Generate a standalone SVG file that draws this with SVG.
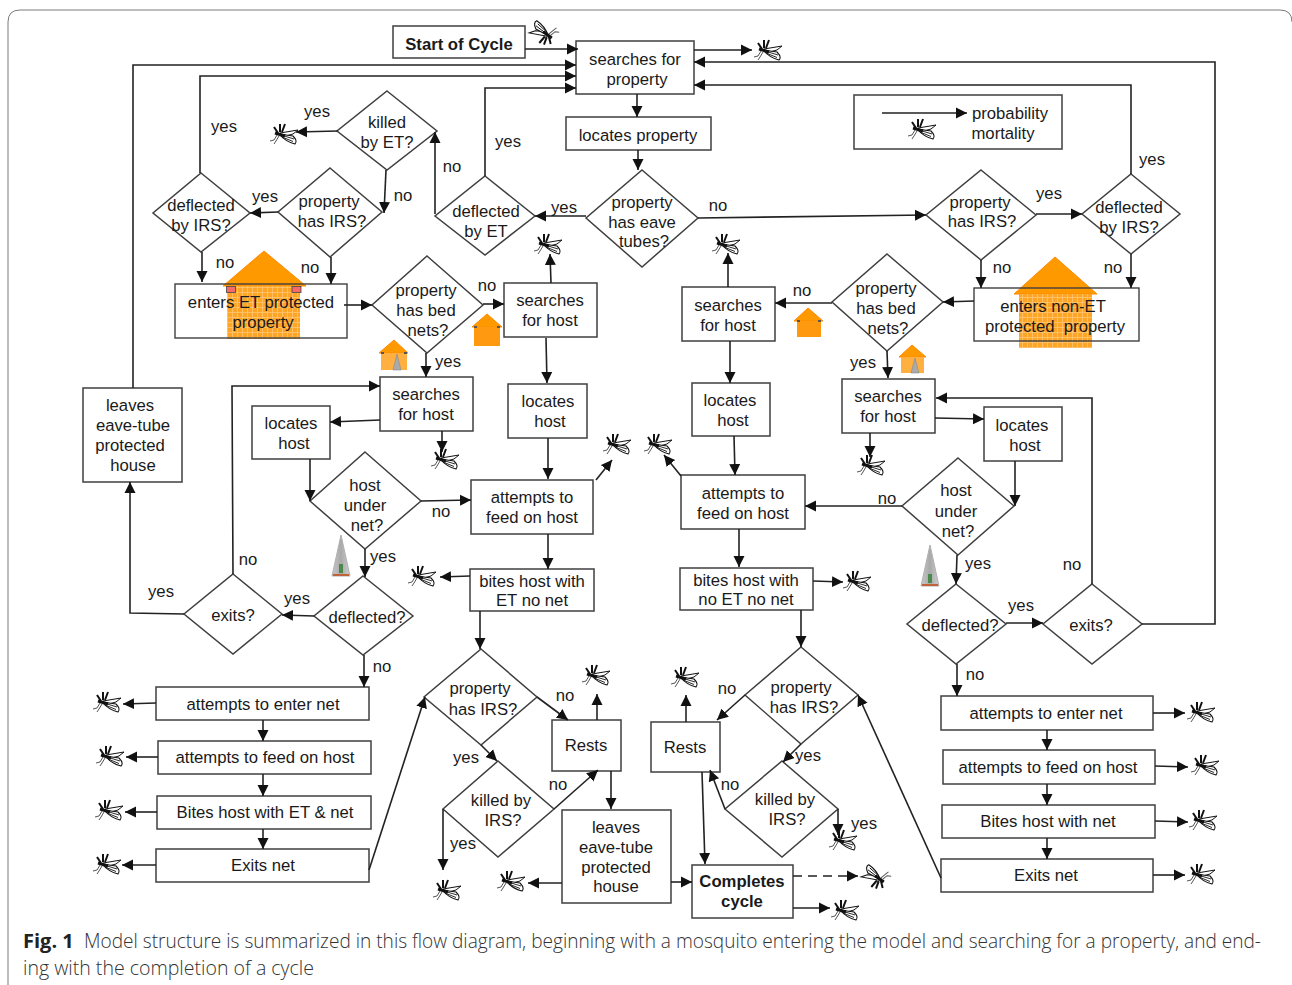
<svg xmlns="http://www.w3.org/2000/svg" xmlns:xlink="http://www.w3.org/1999/xlink" width="1292" height="985" viewBox="0 0 1292 985">
<style>
text{font-family:"Liberation Sans",Arial,sans-serif;font-size:16.7px;fill:#1a1a1a;text-anchor:middle}
.b{fill:#fff;stroke:#3f3f3f;stroke-width:1.5}
.w{fill:#fff}
.o{fill:none;stroke:#3f3f3f;stroke-width:1.4}
.bold{font-weight:700}
#connectors path{fill:none;stroke:#222;stroke-width:1.6;marker-end:url(#ah)}
#connectors path.d{stroke-dasharray:9 6}
.roof{fill:#ff9900;stroke:#ff8a00;stroke-width:1}
.body{fill:url(#plaid)}
.win{fill:#555}
.cap{font-family:"Open Sans","Noto Sans",sans-serif;font-size:19.500px;font-weight:300;fill:#333;text-anchor:start}
.capb{font-family:"Open Sans","Noto Sans",sans-serif;font-size:20px;font-weight:700;fill:#222;text-anchor:start}
</style>
<defs>
<marker id="ah" markerUnits="userSpaceOnUse" markerWidth="13" markerHeight="13" refX="11" refY="6" orient="auto"><path d="M0,0.5 L11,6 L0,11.5Z" fill="#111"/></marker>
<pattern id="plaid" patternUnits="userSpaceOnUse" width="5" height="5"><rect width="5" height="5" fill="#ffa526"/><path d="M0,2.500 H5 M2.500,0 V5" stroke="#ffc574" stroke-width=".8"/></pattern>
<linearGradient id="coneg" x1="0" x2="1" y1="0" y2="0"><stop offset="0" stop-color="#c9c9c9"/><stop offset=".5" stop-color="#a9a9a9"/><stop offset="1" stop-color="#d0d0d0"/></linearGradient>
<g id="mq">
<path d="M-4,-2 L14,-5 L9,-1 L-2,2Z" fill="#fff" stroke="#111" stroke-width="1"/>
<path d="M-5,-1 L9,1 Q14,6 11,9 Q2,7 -5,-1Z" fill="#fff" stroke="#111" stroke-width="1.100"/>
<path d="M-3,0 L10,4 M-2,2 L9,6.500" fill="none" stroke="#111" stroke-width=".9"/>
<path d="M-9,-2 L1,1" fill="none" stroke="#111" stroke-width="3"/>
<path d="M-6,-2 L-10,-8 M-4,-3 L-4,-11 M-2,-3 L1,-11" fill="none" stroke="#111" stroke-width="2"/>
<path d="M-7,0 L-10,5 L-14,6 M-5,1 L-8,6 L-10,9" fill="none" stroke="#555" stroke-width="1"/>
</g>
<g id="cone"><path d="M0,0 L-9,41 H9Z" fill="url(#coneg)" stroke="#b0b0b0"/><path d="M-2,29 h4 v9 h-4z" fill="#4c8a4c"/><path d="M-8,40 H8" stroke="#c0623a" stroke-width="2"/></g>
</defs>
<rect width="1292" height="985" fill="#fff"/>
<path d="M8,985 V22 Q8,10 20,10 H1280 Q1292,10 1292,22" fill="none" stroke="#7a7a7a" stroke-width="1"/>

<g id="n-start"><rect class="b" x="393" y="26" width="132" height="32"/><text class="bold" x="459" y="50">Start of Cycle</text></g>
<g id="n-search-prop"><rect class="b" x="576" y="41" width="118" height="53"/><text x="635" y="65">searches for</text><text x="637" y="85">property</text></g>
<g id="n-locates-prop"><rect class="b" x="566" y="117" width="145" height="33"/><text x="638" y="141">locates property</text></g>
<g id="n-legend"><rect class="b" x="854" y="95" width="208" height="54"/><text x="1010" y="119">probability</text><text x="1003" y="139">mortality</text></g>

<g id="n-killed-et"><path class="b" d="M387,91 L437,131 L387,170 L337,131Z"/><text x="387" y="128">killed</text><text x="387" y="148">by ET?</text></g>
<g id="n-irs-l"><path class="b" d="M330,168 L382,212 L330,257 L278,212Z"/><text x="329" y="207">property</text><text x="332" y="227">has IRS?</text></g>
<g id="n-defl-irs-l"><path class="b" d="M201,173 L250,213 L201,252 L153,213Z"/><text x="201" y="211">deflected</text><text x="201" y="231">by IRS?</text></g>
<g id="n-defl-et"><path class="b" d="M485,176 L535,216 L485,255 L435,216Z"/><text x="486" y="217">deflected</text><text x="486" y="237">by ET</text></g>
<g id="n-eave"><path class="b" d="M642,170 L698,218 L642,267 L586,218Z"/><text x="642" y="208">property</text><text x="642" y="228">has eave</text><text x="644" y="247">tubes?</text></g>
<g id="n-irs-r"><path class="b" d="M981,170 L1036,215 L981,260 L926,215Z"/><text x="980" y="208">property</text><text x="982" y="227">has IRS?</text></g>
<g id="n-defl-irs-r"><path class="b" d="M1131,174 L1180,214 L1131,254 L1082,214Z"/><text x="1129" y="213">deflected</text><text x="1129" y="233">by IRS?</text></g>

<g id="n-enter-et"><rect class="w" x="175" y="284" width="172" height="54"/>
<path class="roof" d="M264,251 L223,286 H306Z"/><rect class="body" x="227" y="286" width="73" height="53"/>
<rect x="226.500" y="286.500" width="9" height="6" fill="#f56a6a" stroke="#444" stroke-width=".8"/><rect x="292" y="286.500" width="9" height="6" fill="#f56a6a" stroke="#444" stroke-width=".8"/>
<rect class="o" x="175" y="284" width="172" height="54"/><text x="261" y="308">enters ET protected</text><text x="263" y="328">property</text></g>
<g id="n-enter-non"><rect class="w" x="974" y="288" width="165" height="53"/>
<path class="roof" d="M1055,257 L1014,294 H1097Z"/><rect class="body" x="1019" y="294" width="73" height="54"/>
<rect class="o" x="974" y="288" width="165" height="53"/><text x="1053" y="312">enters non-ET</text><text x="1055" y="332" xml:space="preserve">protected  property</text></g>

<g id="n-bed-l"><path class="b" d="M427,256 L483,305 L427,353 L372,305Z"/><text x="426" y="296">property</text><text x="426" y="316">has bed</text><text x="428" y="336">nets?</text></g>
<g id="n-bed-r"><path class="b" d="M887,254 L943,302 L887,351 L832,302Z"/><text x="886" y="294">property</text><text x="886" y="314">has bed</text><text x="888" y="334">nets?</text></g>
<g id="n-search-1"><rect class="b" x="504" y="283" width="93" height="54"/><text x="550" y="306">searches</text><text x="550" y="326">for host</text></g>
<g id="n-search-2"><rect class="b" x="682" y="287" width="93" height="54"/><text x="728" y="311">searches</text><text x="728" y="331">for host</text></g>
<g id="n-search-3"><rect class="b" x="380" y="377" width="93" height="54"/><text x="426" y="400">searches</text><text x="426" y="420">for host</text></g>
<g id="n-search-4"><rect class="b" x="842" y="379" width="93" height="54"/><text x="888" y="402">searches</text><text x="888" y="422">for host</text></g>
<g id="n-locate-1"><rect class="b" x="252" y="406" width="78" height="53"/><text x="291" y="429">locates</text><text x="294" y="449">host</text></g>
<g id="n-locate-2"><rect class="b" x="508" y="384" width="79" height="54"/><text x="548" y="407">locates</text><text x="550" y="427">host</text></g>
<g id="n-locate-3"><rect class="b" x="692" y="383" width="78" height="53"/><text x="730" y="406">locates</text><text x="733" y="426">host</text></g>
<g id="n-locate-4"><rect class="b" x="984" y="407" width="78" height="54"/><text x="1022" y="431">locates</text><text x="1025" y="451">host</text></g>
<g id="n-leaves-l"><rect class="b" x="83" y="388" width="99" height="94"/><text x="130" y="411">leaves</text><text x="133" y="431">eave-tube</text><text x="130" y="451">protected</text><text x="133" y="471">house</text></g>
<g id="n-under-l"><path class="b" d="M365,452 L421,501 L365,549 L310,501Z"/><text x="365" y="491">host</text><text x="365" y="511">under</text><text x="367" y="531">net?</text></g>
<g id="n-under-r"><path class="b" d="M958,458 L1014,506 L958,555 L902,506Z"/><text x="956" y="496">host</text><text x="956" y="517">under</text><text x="958" y="537">net?</text></g>
<g id="n-feed-l"><rect class="b" x="471" y="480" width="122" height="54"/><text x="532" y="503">attempts to</text><text x="532" y="523">feed on host</text></g>
<g id="n-feed-r"><rect class="b" x="681" y="475" width="124" height="54"/><text x="743" y="499">attempts to</text><text x="743" y="519">feed on host</text></g>
<g id="n-bites-l"><rect class="b" x="470" y="569" width="124" height="42"/><text x="532" y="587">bites host with</text><text x="532" y="606">ET no net</text></g>
<g id="n-bites-r"><rect class="b" x="680" y="568" width="133" height="42"/><text x="746" y="586">bites host with</text><text x="746" y="605">no ET no net</text></g>
<g id="n-defl-l"><path class="b" d="M363,576 L413,616 L363,655 L314,616Z"/><text x="367" y="623">deflected?</text></g>
<g id="n-exits-l"><path class="b" d="M233,574 L282,614 L233,654 L184,614Z"/><text x="233" y="621">exits?</text></g>
<g id="n-defl-r"><path class="b" d="M956,584 L1006,624 L956,664 L907,624Z"/><text x="960" y="631">deflected?</text></g>
<g id="n-exits-r"><path class="b" d="M1092,584 L1142,624 L1092,664 L1043,624Z"/><text x="1091" y="631">exits?</text></g>
<g id="n-enter-net-l"><rect class="b" x="156" y="687" width="213" height="33"/><text x="263" y="710">attempts to enter net</text></g>
<g id="n-feed-net-l"><rect class="b" x="158" y="741" width="213" height="33"/><text x="265" y="763">attempts to feed on host</text></g>
<g id="n-bites-net-l"><rect class="b" x="157" y="796" width="214" height="33"/><text x="265" y="818">Bites host with ET &amp; net</text></g>
<g id="n-exit-net-l"><rect class="b" x="156" y="849" width="213" height="33"/><text x="263" y="871">Exits net</text></g>
<g id="n-enter-net-r"><rect class="b" x="941" y="696" width="212" height="34"/><text x="1046" y="719">attempts to enter net</text></g>
<g id="n-feed-net-r"><rect class="b" x="943" y="750" width="212" height="34"/><text x="1048" y="773">attempts to feed on host</text></g>
<g id="n-bites-net-r"><rect class="b" x="942" y="805" width="213" height="33"/><text x="1048" y="827">Bites host with net</text></g>
<g id="n-exit-net-r"><rect class="b" x="941" y="859" width="212" height="33"/><text x="1046" y="881">Exits net</text></g>
<g id="n-irs-ll"><path class="b" d="M481,649 L537,697 L481,745 L424,697Z"/><text x="480" y="694">property</text><text x="483" y="715">has IRS?</text></g>
<g id="n-irs-lr"><path class="b" d="M801,647 L858,695 L801,744 L745,695Z"/><text x="801" y="693">property</text><text x="804" y="713">has IRS?</text></g>
<g id="n-kill-irs-l"><path class="b" d="M498,761 L554,809 L498,857 L443,809Z"/><text x="501" y="806">killed by</text><text x="503" y="826">IRS?</text></g>
<g id="n-kill-irs-r"><path class="b" d="M782,761 L838,809 L782,857 L725,809Z"/><text x="785" y="805">killed by</text><text x="787" y="825">IRS?</text></g>
<g id="n-rests-l"><rect class="b" x="552" y="720" width="69" height="51"/><text x="586" y="751">Rests</text></g>
<g id="n-rests-r"><rect class="b" x="651" y="722" width="69" height="50"/><text x="685" y="753">Rests</text></g>
<g id="n-leaves-m"><rect class="b" x="562" y="810" width="109" height="93"/><text x="616" y="833">leaves</text><text x="616" y="853">eave-tube</text><text x="616" y="873">protected</text><text x="616" y="892">house</text></g>
<g id="n-complete"><rect class="b" x="692" y="865" width="101" height="53"/><text class="bold" x="742" y="887">Completes</text><text class="bold" x="742" y="907">cycle</text></g>

<g id="connectors">
<path d="M525,49 H578"/>
<path d="M133,388 V65 H576"/>
<path d="M200,173 V76 H576"/>
<path d="M485,176 V88 H576"/>
<path d="M694,50 H752"/>
<path d="M1142,624 H1215 V62 H694"/>
<path d="M1131,174 V85 H694"/>
<path d="M637,94 V117"/>
<path d="M638,150 V170"/>
<path d="M586,216 H535"/>
<path d="M698,218 L926,215"/>
<path d="M1036,214 H1082"/>
<path d="M435,214 V132"/>
<path d="M338,131 L296,132"/>
<path d="M386,170 L384,213"/>
<path d="M278,212 L250,213"/>
<path d="M202,252 V282"/>
<path d="M331,257 V284"/>
<path d="M344,305 H372"/>
<path d="M483,304 H504"/>
<path d="M426,353 V377"/>
<path d="M551,283 L550,254"/>
<path d="M546,338 L547,383"/>
<path d="M548,438 V479"/>
<path d="M596,480 L612,460"/>
<path d="M548,534 V569"/>
<path d="M470,576 L440,577"/>
<path d="M480,611 V649"/>
<path d="M537,697 L568,720"/>
<path d="M481,745 L497,761"/>
<path d="M597,720 V694"/>
<path d="M611,771 V809"/>
<path d="M554,809 L598,770"/>
<path d="M443,809 V870"/>
<path d="M562,883 L528,883"/>
<path d="M671,882 H692"/>
<path d="M369,870 L425,697"/>
<path d="M156,703 L123,704"/>
<path d="M158,757 H126"/>
<path d="M157,812 H125"/>
<path d="M156,865 H122"/>
<path d="M263,720 V741"/>
<path d="M263,774 V796"/>
<path d="M263,829 V849"/>
<path d="M364,655 V687"/>
<path d="M314,616 L282,615"/>
<path d="M365,549 V577"/>
<path d="M421,501 L471,500"/>
<path d="M310,459 V501"/>
<path d="M380,420 L330,422"/>
<path d="M442,431 V452"/>
<path d="M233,574 L232,386 H380"/>
<path d="M184,614 L130,613 V482"/>
<path d="M981,260 V288"/>
<path d="M1131,254 V288"/>
<path d="M974,301 L943,302"/>
<path d="M832,303 H775"/>
<path d="M728,287 V253"/>
<path d="M730,341 V383"/>
<path d="M734,436 L735,475"/>
<path d="M681,476 L664,455"/>
<path d="M739,529 V567"/>
<path d="M813,581 L843,582"/>
<path d="M801,610 V647"/>
<path d="M887,351 L888,378"/>
<path d="M935,418 L984,419"/>
<path d="M870,433 V457"/>
<path d="M1015,461 V506"/>
<path d="M902,506 H805"/>
<path d="M957,555 L956,584"/>
<path d="M1006,623 H1043"/>
<path d="M1092,584 V398 H936"/>
<path d="M957,664 V696"/>
<path d="M1047,730 V750"/>
<path d="M1047,784 V805"/>
<path d="M1047,838 V859"/>
<path d="M1153,713 H1185"/>
<path d="M1155,766 L1188,767"/>
<path d="M1155,821 L1188,822"/>
<path d="M1153,875 H1185"/>
<path d="M941,878 L858,695"/>
<path d="M745,695 L717,720"/>
<path d="M801,744 L783,762"/>
<path d="M686,722 V695"/>
<path d="M702,772 L705,864"/>
<path d="M725,809 L710,770"/>
<path d="M838,809 V835"/>
<path class="d" d="M793,876 H858"/>
<path d="M793,908 H830"/>
<path d="M882,113 H967"/>
</g>

<g id="labels">
<text x="224" y="132">yes</text><text x="317" y="117">yes</text><text x="403" y="201">no</text><text x="265" y="202">yes</text><text x="225" y="268">no</text><text x="310" y="273">no</text><text x="452" y="172">no</text><text x="508" y="147">yes</text><text x="564" y="213">yes</text><text x="718" y="211">no</text><text x="1049" y="199">yes</text><text x="1152" y="165">yes</text><text x="1002" y="273">no</text><text x="1113" y="273">no</text><text x="487" y="291">no</text><text x="448" y="367">yes</text><text x="802" y="296">no</text><text x="863" y="368">yes</text><text x="441" y="517">no</text><text x="383" y="562">yes</text><text x="248" y="565">no</text><text x="161" y="597">yes</text><text x="297" y="604">yes</text><text x="382" y="672">no</text><text x="887" y="504">no</text><text x="978" y="569">yes</text><text x="1072" y="570">no</text><text x="1021" y="611">yes</text><text x="975" y="680">no</text><text x="565" y="701">no</text><text x="466" y="763">yes</text><text x="558" y="790">no</text><text x="463" y="849">yes</text><text x="727" y="694">no</text><text x="808" y="761">yes</text><text x="730" y="790">no</text><text x="864" y="829">yes</text>
</g>

<g id="small-houses">
<path class="roof" d="M487,314 L472,327 H502Z"/><rect x="474" y="327" width="26" height="19" fill="#ff9a10"/><rect class="win" x="474" y="326" width="3" height="2"/><rect class="win" x="497" y="326" width="3" height="2"/>
<path class="roof" d="M808,308 L794,321 H823Z"/><rect x="797" y="321" width="24" height="16" fill="#ff9a10"/><rect class="win" x="797" y="320" width="3" height="2"/><rect class="win" x="818" y="320" width="3" height="2"/>
<path class="roof" d="M394,340 L379,353 H408Z"/><rect x="381" y="353" width="26" height="17" fill="#ffb040"/><rect class="win" x="381" y="352" width="3" height="2"/><rect class="win" x="404" y="352" width="3" height="2"/><path d="M397,354 L393,370 H401Z" fill="#aaa" stroke="#888" stroke-width=".6"/>
<path class="roof" d="M912,345 L899,357 H926Z"/><rect x="901" y="357" width="23" height="16" fill="#ffb040"/><path d="M915,358 L911,373 H919Z" fill="#aaa" stroke="#888" stroke-width=".6"/>
</g>
<use href="#cone" xlink:href="#cone" transform="translate(341 535)"/>
<use href="#cone" xlink:href="#cone" transform="translate(930 545)"/>

<g id="mosquitoes">
<use href="#mq" xlink:href="#mq" transform="translate(544 33) rotate(200)"/>
<use href="#mq" xlink:href="#mq" transform="translate(768 51)"/>
<use href="#mq" xlink:href="#mq" transform="translate(284 135)"/>
<use href="#mq" xlink:href="#mq" transform="translate(922 130)"/>
<use href="#mq" xlink:href="#mq" transform="translate(548 245)"/>
<use href="#mq" xlink:href="#mq" transform="translate(726 245)"/>
<use href="#mq" xlink:href="#mq" transform="translate(445 460)"/>
<use href="#mq" xlink:href="#mq" transform="translate(871 466)"/>
<use href="#mq" xlink:href="#mq" transform="translate(617 445)"/>
<use href="#mq" xlink:href="#mq" transform="translate(658 445)"/>
<use href="#mq" xlink:href="#mq" transform="translate(422 577)"/>
<use href="#mq" xlink:href="#mq" transform="translate(857 582)"/>
<use href="#mq" xlink:href="#mq" transform="translate(107 703)"/>
<use href="#mq" xlink:href="#mq" transform="translate(110 757)"/>
<use href="#mq" xlink:href="#mq" transform="translate(109 811)"/>
<use href="#mq" xlink:href="#mq" transform="translate(107 865)"/>
<use href="#mq" xlink:href="#mq" transform="translate(1201 713)"/>
<use href="#mq" xlink:href="#mq" transform="translate(1205 766)"/>
<use href="#mq" xlink:href="#mq" transform="translate(1203 821)"/>
<use href="#mq" xlink:href="#mq" transform="translate(1201 875)"/>
<use href="#mq" xlink:href="#mq" transform="translate(596 676)"/>
<use href="#mq" xlink:href="#mq" transform="translate(685 678)"/>
<use href="#mq" xlink:href="#mq" transform="translate(447 891)"/>
<use href="#mq" xlink:href="#mq" transform="translate(511 882)"/>
<use href="#mq" xlink:href="#mq" transform="translate(843 841)"/>
<use href="#mq" xlink:href="#mq" transform="translate(876 877) rotate(200)"/>
<use href="#mq" xlink:href="#mq" transform="translate(845 911)"/>
</g>

<g id="caption">
<text class="capb" x="23" y="948">Fig. 1</text>
<text class="cap" x="84" y="948" textLength="1177" lengthAdjust="spacingAndGlyphs">Model structure is summarized in this flow diagram, beginning with a mosquito entering the model and searching for a property, and end-</text>
<text class="cap" x="23" y="975" textLength="291" lengthAdjust="spacingAndGlyphs">ing with the completion of a cycle</text>
</g>
</svg>
